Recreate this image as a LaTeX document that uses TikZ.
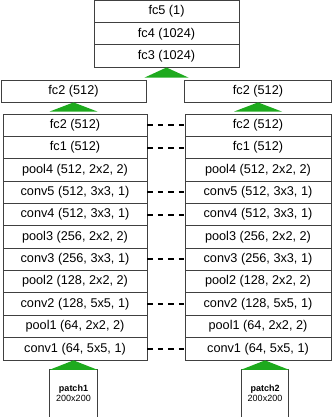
\documentclass[tikz,border=0pt]{standalone}
\usepackage{fontspec}
\setmainfont{Liberation Sans}
\usetikzlibrary{calc}
\definecolor{edgecol}{RGB}{64,64,64}
\definecolor{arrowgreen}{RGB}{30,170,30}
\begin{document}
\begin{tikzpicture}[x=1pt,y=-1pt,
  layer/.style={draw=edgecol, line width=0.8pt, rectangle, inner sep=0pt,
    minimum height=22.36pt, font=\fontsize{12.7}{14}\selectfont, text=black},
  topbox/.style={layer, minimum width=145pt, minimum height=22.2pt},
  patchbox/.style={rectangle, inner sep=0pt, minimum width=47pt, minimum height=47pt,
    align=center, font=\fontsize{9}{10}\selectfont},
  patchedge/.style={draw=edgecol, line width=0.8pt},
  tri/.style={fill=arrowgreen},
  conn/.style={line width=2pt, dash pattern=on 5.5pt off 5pt, black}]
\clip (0,0) rectangle (332,417);
% top fully connected block
\node[topbox] (fc5) at (166.5,11.6) {fc5 (1)};
\node[topbox] (fc4) at (166.5,33.8) {fc4 (1024)};
\node[topbox] (fc3) at (166.5,56.0) {fc3 (1024)};
% fc2 boxes
\node[layer, minimum width=145pt, minimum height=22pt] (LF) at (73.5,91) {fc2 (512)};
\node[layer, minimum width=147pt, minimum height=22pt] (RF) at (258,91) {fc2 (512)};
% columns
\foreach \t [count=\i] in {{fc2 (512)},{fc1 (512)},{pool4 (512, 2x2, 2)},{conv5 (512, 3x3, 1)},{conv4 (512, 3x3, 1)},{pool3 (256, 2x2, 2)},{conv3 (256, 3x3, 1)},{pool2 (128, 2x2, 2)},{conv2 (128, 5x5, 1)},{pool1 (64, 2x2, 2)},{conv1 (64, 5x5, 1)}}{
  \node[layer, minimum width=144pt] (L\i) at (75,{114+22.36*(\i-0.5)}) {\t};
  \node[layer, minimum width=146pt] (R\i) at (258,{114+22.36*(\i-0.5)}) {\t};
}
% patches
\node[patchbox] (P1) at (73.5,393.5) {\textbf{patch1}\\200x200};
\node[patchbox] (P2) at (265,393.5) {\textbf{patch2}\\200x200};
\draw[patchedge] ($(P1.south west)+(0,2)$) -- (P1.north west) -- (P1.north east) -- ($(P1.south east)+(0,2)$);
\draw[patchedge] ($(P2.south west)+(0,2)$) -- (P2.north west) -- (P2.north east) -- ($(P2.south east)+(0,2)$);
% green triangles
\fill[tri] (fc3.south) -- ($(LF.north -| fc3.south)+(22,-2)$) -- ($(LF.north -| fc3.south)+(-22,-2)$) -- cycle;
\fill[tri] (LF.south) -- ($(L1.north -| LF.south)+(24,-2)$) -- ($(L1.north -| LF.south)+(-24,-2)$) -- cycle;
\fill[tri] (RF.south) -- ($(R1.north -| RF.south)+(24,-2)$) -- ($(R1.north -| RF.south)+(-24,-2)$) -- cycle;
\fill[tri] (L11.south -| P1.north) -- ($(P1.north)+(24,0)$) -- ($(P1.north)+(-24,0)$) -- cycle;
\fill[tri] (R11.south -| P2.north) -- ($(P2.north)+(24,0)$) -- ($(P2.north)+(-24,0)$) -- cycle;
% dashed correspondences
\foreach \i/\s in {1/0.18,2/-0.46,4/0.26,5/-0.38,7/0.34,9/0.06,11/-0.22}{
  \draw[conn] ([yshift=\s pt]L\i.east) -- ([yshift=\s pt]R\i.west);
}
\end{tikzpicture}
\end{document}
